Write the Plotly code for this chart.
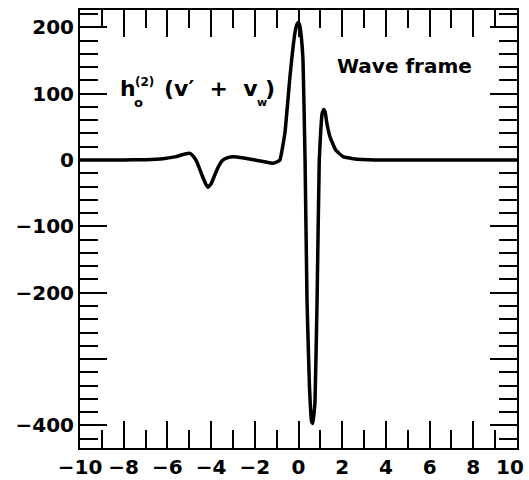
import plotly.graph_objects as go

# ---- data ----
x_vals = [-10, -8, -7, -6.2, -5.6, -5.2, -4.97, -4.8, -4.65, -4.45, -4.25, -4.14, -4.0,
          -3.8, -3.6, -3.45, -3.2, -3.0, -2.5, -2.0, -1.5, -1.17, -1.0, -0.85, -0.62,
          -0.39, -0.16, -0.06, 0.0, 0.06, 0.13, 0.206, 0.30, 0.39, 0.5, 0.6, 0.65, 0.7, 0.755,
          0.85, 0.95, 1.02, 1.08, 1.15, 1.22, 1.3, 1.44, 1.7, 2.04, 2.5, 3.5, 5, 10]
y_vals = [0, 0, 0.5, 2, 5, 9, 10, 5, -3, -20, -36, -41, -36,
          -20, -6, 0, 4, 5, 3, 0, -3, -5, -3, 0, 41,
          126, 192, 205, 207, 202, 185, 151, 0, -212, -340, -394, -397, -385, -364,
          -212, 0, 45, 70, 76, 72, 55, 35, 15, 5, 2, 0, 0, 0]

x_ticks = [-10, -8, -6, -4, -2, 0, 2, 4, 6, 8, 10]
x_ticktext = ["\u221210", "\u22128", "\u22126", "\u22124", "\u22122", "0", "2", "4", "6", "8", ""]
x_last_label = "10"
y_ticks = [-400, -300, -200, -100, 0, 100, 200]
y_ticktext = ["\u2212400", "", "\u2212200", "\u2212100", "0", "100", "200"]

FONT = "DejaVu Sans"

fig = go.Figure()
fig.add_trace(go.Scatter(
    x=x_vals, y=y_vals, mode="lines",
    line=dict(color="black", width=3.5, shape="spline", smoothing=0.3),
    showlegend=False, hoverinfo="skip",
))

L, R, T, B = 80, 12, 10, 32
W, H = 529, 480
PW, PH = W - L - R, H - T - B


def px(xp, yp):
    return (xp - L) / PW, (H - B - yp) / PH


def ann(text, xp, yp, size, xanchor="center"):
    xx, yy = px(xp, yp)
    fig.add_annotation(text=text, x=xx, y=yy, xref="paper", yref="paper",
                       showarrow=False, xanchor=xanchor, yanchor="middle",
                       font=dict(family=FONT, size=size, color="black"))


ann("<b>h</b>", 128, 88, 22)
ann("<b>(2)</b>", 144, 82, 12)
ann("<b>o</b>", 138, 103, 13)
ann("<b>(v\u2032  +  v</b>", 162, 88, 22, xanchor="left")
ann("<b>w</b>", 262, 103, 11)
ann("<b>)</b>", 270, 88, 22)
ann("<b>Wave frame</b>", 404, 66, 20)
ann("<b>" + x_last_label + "</b>", 526, 467, 20, xanchor="right")

axis_common = dict(
    showline=True, linecolor="black", linewidth=2, mirror="ticks",
    ticks="inside", ticklen=27, tickwidth=2, tickcolor="black",
    showgrid=False, zeroline=False, automargin=False,
    tickfont=dict(family=FONT, size=20, color="black", weight="bold"),
)

fig.update_xaxes(range=[-10, 10], tickmode="array", tickvals=x_ticks, ticktext=x_ticktext,
                 minor=dict(ticks="inside", dtick=1, tick0=0, ticklen=18, tickwidth=2,
                            tickcolor="black", showgrid=False),
                 **axis_common)
fig.update_yaxes(range=[-434, 226], tickmode="array", tickvals=y_ticks, ticktext=y_ticktext,
                 minor=dict(ticks="inside", dtick=20, tick0=0, ticklen=18, tickwidth=2,
                            tickcolor="black", showgrid=False),
                 **axis_common)

fig.update_layout(
    width=W, height=H,
    margin=dict(l=L, r=R, t=T, b=B),
    paper_bgcolor="white", plot_bgcolor="white",
)

fig.write_html("out.html", config={"displayModeBar": False, "staticPlot": True},
               post_script="document.body.style.margin='0';document.body.style.overflow='hidden';")
